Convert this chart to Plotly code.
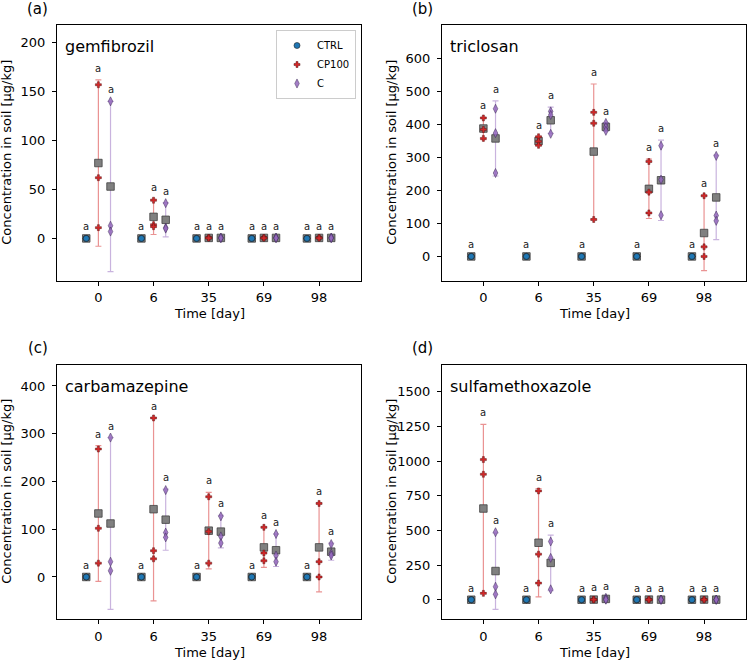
import plotly.graph_objects as go

# ---------------- data ----------------
days = ["0", "6", "35", "69", "98"]
compounds = ["gemfibrozil", "triclosan", "carbamazepine", "sulfamethoxazole"]
panel_labels = ["(a)", "(b)", "(c)", "(d)"]

# individual replicate values (3 per day) for each treatment
gem_ctrl = [[0, 0, 0], [0, 0, 0], [0, 0, 0], [0, 0, 0], [0, 0, 0]]
gem_cp100 = [[157, 62, 11], [39, 14, 12], [0.8, 0.5, 0.3], [0.8, 0.5, 0.3], [0.8, 0.5, 0.3]]
gem_c = [[140, 13, 7], [36, 11, 10], [0.8, 0.5, 0.3], [0.8, 0.5, 0.3], [0.8, 0.5, 0.3]]
gem_cp100_mean = [77, 22, 0.5, 0.5, 0.5]
gem_cp100_err = [85, 18, 0, 0, 0]
gem_c_mean = [53, 19, 0.5, 0.5, 0.5]
gem_c_err = [87, 17.5, 0, 0, 0]

tcs_ctrl = [[0, 0, 0], [0, 0, 0], [0, 0, 0], [0, 0, 0], [0, 0, 0]]
tcs_cp100 = [[420, 385, 358], [363, 349, 337], [437, 404, 112], [288, 195, 132], [184, 29, 0]]
tcs_c = [[448, 374, 253], [440, 429, 372], [405, 392, 381], [336, 233, 125], [305, 124, 108]]
tcs_cp100_mean = [388, 350, 318, 205, 71]
tcs_cp100_err = [34, 13, 205, 90, 114]
tcs_c_mean = [358, 413, 393, 231, 179]
tcs_c_err = [114, 40, 12, 122, 128]

cbz_ctrl = [[0, 0, 0], [0, 0, 0], [0, 0, 0], [0, 0, 0], [0, 0, 0]]
cbz_cp100 = [[268, 102, 29], [333, 55, 38], [168, 95, 29], [104, 50, 34], [154, 32, 0]]
cbz_c = [[292, 32, 13], [182, 93, 83], [127, 85, 71], [90, 45, 32], [69, 49, 45]]
cbz_cp100_mean = [133, 142, 97, 62, 62]
cbz_cp100_err = [142, 192, 80, 42, 93]
cbz_c_mean = [112, 120, 95, 56, 53]
cbz_c_err = [180, 64, 34, 34, 18]

smx_ctrl = [[0, 0, 0], [0, 0, 0], [0, 0, 0], [0, 0, 0], [0, 0, 0]]
smx_cp100 = [[1011, 905, 46], [785, 329, 120], [2, 1, 0], [1, 1, 0], [1, 1, 0]]
smx_c = [[487, 94, 39], [420, 302, 75], [14, 4, 0], [1, 0, 0], [1, 0, 0]]
smx_cp100_mean = [658, 411, 1, 1, 1]
smx_cp100_err = [607, 390, 0, 0, 0]
smx_c_mean = [207, 266, 6, 0.5, 0.5]
smx_c_err = [276, 200, 8, 0, 0]

ctrl_mean = [0, 0, 0, 0, 0]

panels = [
    (gem_ctrl, gem_cp100, gem_c, gem_cp100_mean, gem_cp100_err, gem_c_mean, gem_c_err),
    (tcs_ctrl, tcs_cp100, tcs_c, tcs_cp100_mean, tcs_cp100_err, tcs_c_mean, tcs_c_err),
    (cbz_ctrl, cbz_cp100, cbz_c, cbz_cp100_mean, cbz_cp100_err, cbz_c_mean, cbz_c_err),
    (smx_ctrl, smx_cp100, smx_c, smx_cp100_mean, smx_cp100_err, smx_c_mean, smx_c_err),
]

y_ranges = [[-43, 218], [-73, 702], [-88, 445], [-139, 1697]]
y_ticks = [
    [0, 50, 100, 150, 200],
    [0, 100, 200, 300, 400, 500, 600],
    [0, 100, 200, 300, 400],
    [0, 250, 500, 750, 1000, 1250, 1500],
]

# ---------------- layout geometry ----------------
W, H = 748, 664
FONT = "DejaVu Sans"
boxes = [  # left, right, top, bottom in px
    (57, 361, 25, 280.5),
    (442, 746, 25, 280.5),
    (57, 361, 364.5, 619),
    (442, 746, 364.5, 619),
]
offsets = {"CTRL": -0.22, "CP100": 0.0, "C": 0.22}

BLUE = "#1f77b4"
RED = "#d62728"
PURPLE = "#9467bd"

fig = go.Figure()
annotations = []

for p, (ctrl, cp, cc, cpm, cpe, cm, ce) in enumerate(panels):
    xa = "x" if p == 0 else f"x{p+1}"
    ya = "y" if p == 0 else f"y{p+1}"
    n = len(days)

    # means (grey squares) with error bars
    fig.add_trace(go.Scatter(
        x=[i + offsets["CTRL"] for i in range(n)], y=ctrl_mean, mode="markers",
        marker=dict(symbol="square", size=7.5, color="#808080", line=dict(color="#404040", width=0.8)),
        showlegend=False, xaxis=xa, yaxis=ya, hoverinfo="skip"))
    fig.add_trace(go.Scatter(
        x=[i + offsets["CP100"] for i in range(n)], y=cpm, mode="markers",
        marker=dict(symbol="square", size=7.5, color="#808080", line=dict(color="#404040", width=0.8)),
        error_y=dict(type="data", array=cpe, visible=True, color="rgba(214,39,40,0.5)", thickness=1.2, width=3),
        showlegend=False, xaxis=xa, yaxis=ya, hoverinfo="skip"))
    fig.add_trace(go.Scatter(
        x=[i + offsets["C"] for i in range(n)], y=cm, mode="markers",
        marker=dict(symbol="square", size=7.5, color="#808080", line=dict(color="#404040", width=0.8)),
        error_y=dict(type="data", array=ce, visible=True, color="rgba(148,103,189,0.5)", thickness=1.2, width=3),
        showlegend=False, xaxis=xa, yaxis=ya, hoverinfo="skip"))

    # replicate points
    def flat(pts, key):
        xs, ys = [], []
        for i, vals in enumerate(pts):
            for v in vals:
                xs.append(i + offsets[key])
                ys.append(v)
        return xs, ys

    xs, ys = flat(ctrl, "CTRL")
    fig.add_trace(go.Scatter(x=xs, y=ys, mode="markers", name="CTRL",
        marker=dict(symbol="circle", size=6, color=BLUE, line=dict(color="#222", width=0.6)),
        showlegend=(p == 0), xaxis=xa, yaxis=ya))
    xs, ys = flat(cp, "CP100")
    fig.add_trace(go.Scatter(x=xs, y=ys, mode="markers", name="CP100",
        marker=dict(symbol="cross", size=5, color=RED, line=dict(color="#5a1a1a", width=0.5)),
        showlegend=(p == 0), xaxis=xa, yaxis=ya))
    xs, ys = flat(cc, "C")
    fig.add_trace(go.Scatter(x=xs, y=ys, mode="markers", name="C",
        marker=dict(symbol="diamond-tall", size=6.5, color="rgba(148,103,189,0.85)", line=dict(color="#3d2a55", width=0.5)),
        showlegend=(p == 0), xaxis=xa, yaxis=ya))

    # 'a' letters above each group
    for key, pts, mean, err in (("CTRL", ctrl, ctrl_mean, [0] * n),
                                ("CP100", cp, cpm, cpe),
                                ("C", cc, cm, ce)):
        for i in range(n):
            top = max(max(pts[i]), mean[i] + err[i])
            annotations.append(dict(x=i + offsets[key], y=top, xref=xa, yref=ya, text="a",
                                    showarrow=False, yanchor="bottom", xanchor="center", yshift=4,
                                    font=dict(size=10, family=FONT, color="#222")))

    l, r, t, b = boxes[p]
    axis_common = dict(showline=True, mirror=True, linecolor="black", linewidth=1,
                       ticks="outside", ticklen=4, tickwidth=1, tickcolor="black",
                       showgrid=False, zeroline=False,
                       tickfont=dict(size=13, family=FONT, color="black"))
    fig.layout[("xaxis" if p == 0 else f"xaxis{p+1}")] = dict(
        domain=[l / W, r / W], anchor=ya, range=[-0.75, 4.76],
        tickmode="array", tickvals=list(range(n)), ticktext=days, ticklabelstandoff=1, **axis_common)
    fig.layout[("yaxis" if p == 0 else f"yaxis{p+1}")] = dict(
        domain=[1 - b / H, 1 - t / H], anchor=xa, range=y_ranges[p],
        tickmode="array", tickvals=y_ticks[p], ticktext=[str(v) for v in y_ticks[p]],
        ticklabelstandoff=4, **axis_common)

    # axis titles
    annotations.append(dict(x=(l + r) / 2 / W, y=1 - (b + 33) / H, xref="paper", yref="paper",
                            text="Time [day]", showarrow=False, xanchor="center", yanchor="middle",
                            font=dict(size=13, family=FONT, color="black")))
    annotations.append(dict(x=(l - 50) / W, y=1 - (t + b) / 2 / H, xref="paper", yref="paper",
                            text="Concentration in soil [μg/kg]", showarrow=False, textangle=-90,
                            xanchor="center", yanchor="middle",
                            font=dict(size=13, family=FONT, color="black")))
    # compound name
    annotations.append(dict(x=(l + 6) / W, y=1 - (t + 22) / H, xref="paper", yref="paper",
                            text=compounds[p], showarrow=False, xanchor="left", yanchor="middle",
                            font=dict(size=16, family=FONT, color="black")))
    # panel label
    annotations.append(dict(x=(l - 19.5) / W, y=1 - (t - 16.5) / H, xref="paper", yref="paper",
                            text=panel_labels[p], showarrow=False, xanchor="center", yanchor="middle",
                            font=dict(size=15, family=FONT, color="black")))

fig.update_layout(
    width=W, height=H, autosize=False,
    margin=dict(l=0, r=0, t=0, b=0),
    paper_bgcolor="white", plot_bgcolor="white",
    font=dict(family=FONT, size=13, color="black"),
    annotations=annotations,
    legend=dict(x=356 / W, y=1 - 30 / H, xanchor="right", yanchor="top",
                bordercolor="#cccccc", borderwidth=1, bgcolor="rgba(255,255,255,0.8)",
                font=dict(size=10, family=FONT, color="black"),
                itemwidth=30, tracegroupgap=0),
)

fig.write_html("out.html")
